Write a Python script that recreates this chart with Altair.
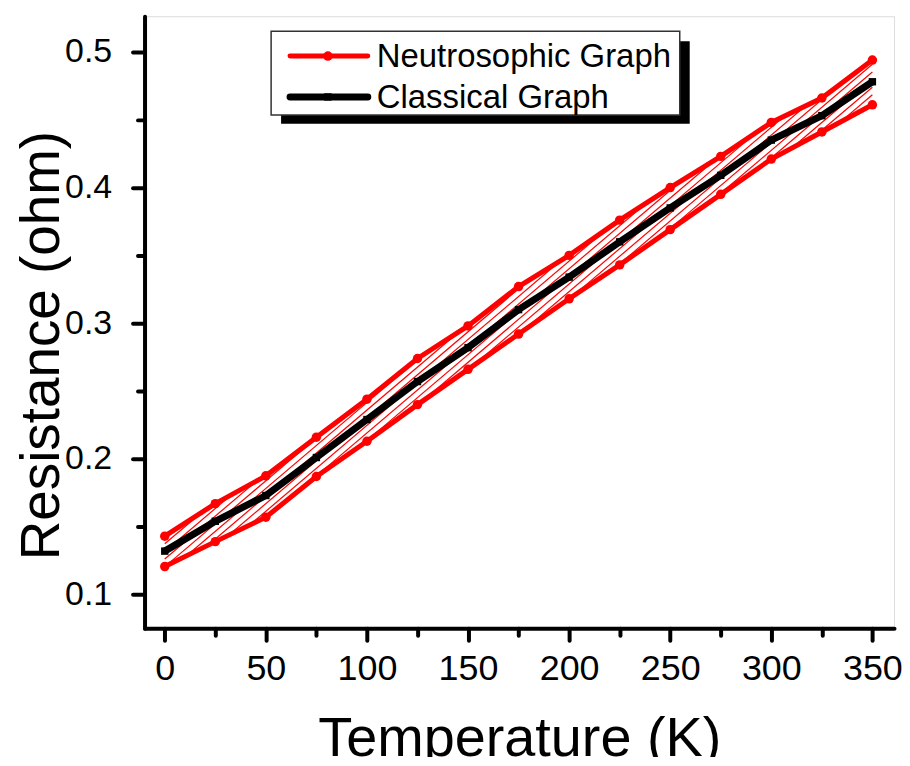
import altair as alt
import pandas as pd
import numpy as np

temps = [0, 25, 50, 75, 100, 125, 150, 175, 200, 225, 250, 275, 300, 325, 350]
upper = [0.143, 0.167, 0.1875, 0.216, 0.244, 0.274, 0.298, 0.327, 0.350, 0.376, 0.400, 0.423, 0.448, 0.466, 0.494]
lower = [0.1206, 0.139, 0.157, 0.187, 0.213, 0.240, 0.266, 0.292, 0.318, 0.343, 0.369, 0.395, 0.421, 0.441, 0.461]
classical = [0.132, 0.154, 0.173, 0.201, 0.229, 0.257, 0.282, 0.310, 0.334, 0.360, 0.385, 0.409, 0.435, 0.453, 0.478]
legend_labels = ["Neutrosophic Graph", "Classical Graph"]

FONT = "Liberation Sans"
W, H = 752, 614
XD = [-10.0, 360.7]
YD = [0.0752, 0.5263]

# --- hatch segments between the two neutrosophic curves (derived from data) ---
def to_px(x):
    return (np.asarray(x) - XD[0]) / (XD[1] - XD[0]) * W

def to_py(y):
    return (YD[1] - np.asarray(y)) / (YD[1] - YD[0]) * H

gx = np.linspace(to_px(temps[0]), to_px(temps[-1]), 5000)
yu = np.interp(gx, to_px(temps), to_py(upper))
yl = np.interp(gx, to_px(temps), to_py(lower))
slope = 0.85
spacing = 9.0 * slope
hx, hy, hx2, hy2 = [], [], [], []
cmin = (slope * gx + yu).min()
cmax = (slope * gx + yl).max()
for c in np.arange(cmin, cmax, spacing):
    ly = c - slope * gx
    inside = (ly >= yu) & (ly <= yl)
    if inside.sum() < 2:
        continue
    a = gx[inside].min()
    b = gx[inside].max()
    hx.append(XD[0] + a / W * (XD[1] - XD[0]))
    hx2.append(XD[0] + b / W * (XD[1] - XD[0]))
    hy.append(YD[1] - (c - slope * a) / H * (YD[1] - YD[0]))
    hy2.append(YD[1] - (c - slope * b) / H * (YD[1] - YD[0]))
hatch = pd.DataFrame({"x": hx, "y": hy, "x2": hx2, "y2": hy2})

neut = pd.DataFrame({
    "T": temps * 2,
    "R": upper + lower,
    "bound": ["upper"] * len(temps) + ["lower"] * len(temps),
})
clas = pd.DataFrame({"T": temps, "R": classical})

xscale = alt.Scale(domain=XD, nice=False, zero=False)
yscale = alt.Scale(domain=YD, nice=False, zero=False)

xaxis = alt.Axis(
    values=[0, 25, 50, 75, 100, 125, 150, 175, 200, 225, 250, 275, 300, 325, 350],
    labelExpr="datum.value % 50 === 0 ? datum.label : ''",
    title="Temperature (K)", titleFont=FONT, titleFontSize=56, titleFontWeight="normal",
    titleColor="black", titleBaseline="alphabetic", titleY=128,
    labelFont=FONT, labelFontSize=36, labelColor="black", labelPadding=11,
    labelFlush=False, labelOverlap=False,
    domainColor="black", domainWidth=4, domainCap="round",
    tickColor="black", tickWidth=4, tickCap="round",
    tickSize={"condition": {"test": "datum.value % 50 === 0", "value": 12}, "value": 7},
    grid=False,
)
yaxis = alt.Axis(
    values=[0.1, 0.15, 0.2, 0.25, 0.3, 0.35, 0.4, 0.45, 0.5],
    labelExpr="abs(datum.value*10 - round(datum.value*10)) < 0.001 ? format(datum.value, '.1f') : ''",
    title="Resistance (ohm)", titleFont=FONT, titleFontSize=55, titleFontWeight="normal",
    titleColor="black", titleAngle=270, titleBaseline="alphabetic", titleAlign="center",
    titleX=-86, titleY=330,
    labelFont=FONT, labelFontSize=34, labelColor="black", labelPadding=21,
    labelFlush=False, labelOverlap=False,
    domainColor="black", domainWidth=4, domainCap="round",
    tickColor="black", tickWidth=4, tickCap="round",
    tickSize={"condition": {"test": "abs(datum.value*10 - round(datum.value*10)) < 0.001", "value": 12}, "value": 7},
    grid=False,
)

hatch_layer = alt.Chart(hatch).mark_rule(color="#ff0000", strokeWidth=1.2).encode(
    x=alt.X("x:Q", scale=xscale, axis=xaxis),
    y=alt.Y("y:Q", scale=yscale, axis=yaxis),
    x2="x2:Q",
    y2="y2:Q",
)

neut_lines = alt.Chart(neut).mark_line(color="#ff0000", strokeWidth=5).encode(
    x=alt.X("T:Q", scale=xscale),
    y=alt.Y("R:Q", scale=yscale),
    detail="bound:N",
)
neut_pts = alt.Chart(neut).mark_point(color="#ff0000", filled=True, opacity=1, size=90, shape="circle").encode(
    x=alt.X("T:Q", scale=xscale),
    y=alt.Y("R:Q", scale=yscale),
)
clas_line = alt.Chart(clas).mark_line(color="black", strokeWidth=7).encode(
    x=alt.X("T:Q", scale=xscale),
    y=alt.Y("R:Q", scale=yscale),
)
clas_pts = alt.Chart(clas).mark_point(color="black", filled=True, opacity=1, size=55, shape="square").encode(
    x=alt.X("T:Q", scale=xscale),
    y=alt.Y("R:Q", scale=yscale),
)

one = pd.DataFrame({"k": [0]})
shadow = alt.Chart(one).mark_rect(color="black").encode(
    x=alt.value(137), x2=alt.value(547), y=alt.value(25), y2=alt.value(108))
box = alt.Chart(one).mark_rect(fill="white", stroke="#333333", strokeWidth=1.5).encode(
    x=alt.value(127), x2=alt.value(537), y=alt.value(15), y2=alt.value(99))
leg_red_line = alt.Chart(one).mark_rule(color="#ff0000", strokeWidth=5, strokeCap="round").encode(
    x=alt.value(146), x2=alt.value(224), y=alt.value(40))
leg_red_pt = alt.Chart(one).mark_point(color="#ff0000", filled=True, opacity=1, size=90, shape="circle").encode(
    x=alt.value(184), y=alt.value(40))
leg_blk_line = alt.Chart(one).mark_rule(color="black", strokeWidth=7, strokeCap="round").encode(
    x=alt.value(146), x2=alt.value(224), y=alt.value(81))
leg_blk_pt = alt.Chart(one).mark_point(color="black", filled=True, opacity=1, size=55, shape="square").encode(
    x=alt.value(184), y=alt.value(81))
leg_t1 = alt.Chart(pd.DataFrame({"label": [legend_labels[0]]})).mark_text(
    font=FONT, fontSize=33, align="left", baseline="middle", color="black").encode(
    x=alt.value(233), y=alt.value(41), text="label:N")
leg_t2 = alt.Chart(pd.DataFrame({"label": [legend_labels[1]]})).mark_text(
    font=FONT, fontSize=33, align="left", baseline="middle", color="black").encode(
    x=alt.value(233), y=alt.value(82), text="label:N")

chart = alt.layer(
    hatch_layer, neut_lines, neut_pts, clas_line, clas_pts,
    shadow, box, leg_red_line, leg_red_pt, leg_blk_line, leg_blk_pt, leg_t1, leg_t2,
).properties(
    width=W, height=H,
    autosize=alt.AutoSizeParams(type="none"),
    padding={"left": 137, "top": 7, "right": 8, "bottom": 128},
).configure_view(stroke=None).configure(background="white")

chart.save("out.html", embed_options={"renderer": "svg", "actions": False})
